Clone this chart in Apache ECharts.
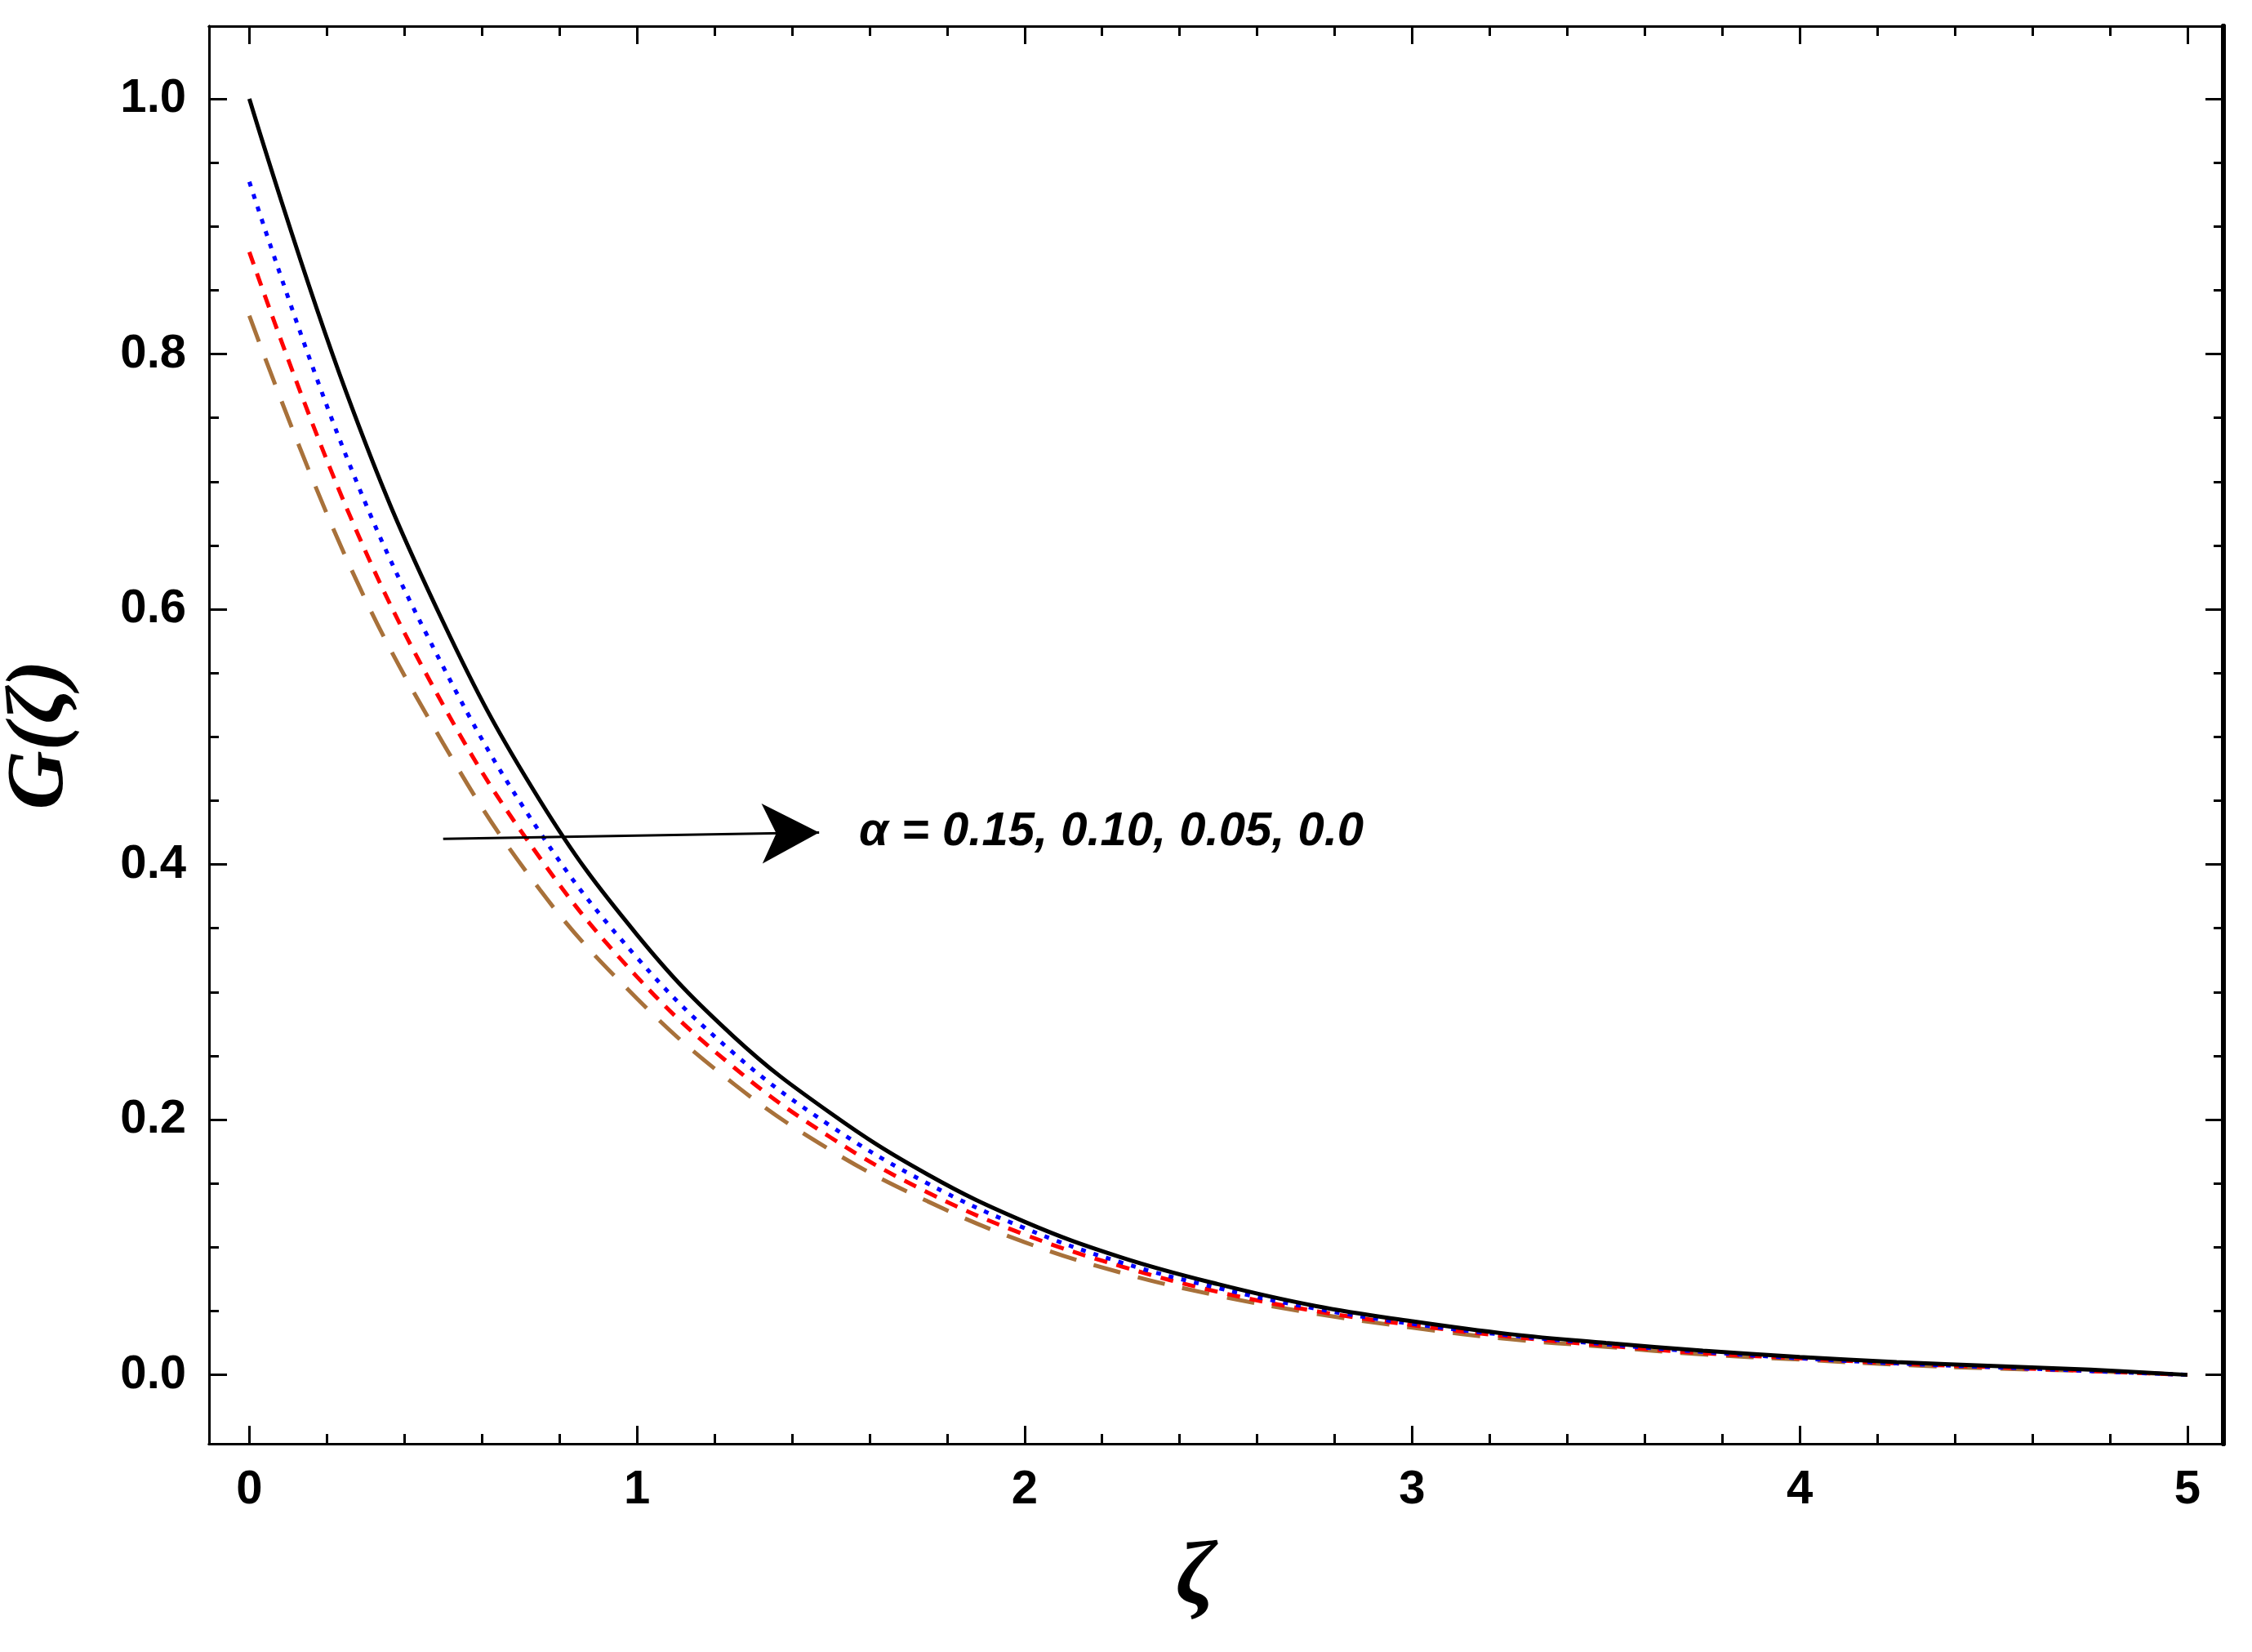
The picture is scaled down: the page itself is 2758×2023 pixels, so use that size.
<!DOCTYPE html>
<html>
<head>
<meta charset="utf-8">
<script src="https://cdn.jsdelivr.net/npm/echarts@6/dist/echarts.min.js"></script>
<style>html,body{margin:0;background:#fff}#chart{width:2758px;height:2023px}</style>
</head>
<body>
<div id="chart"></div>
<script>
// zeta values, step 0.25
var zeta = [0,0.25,0.5,0.75,1,1.25,1.5,1.75,2,2.25,2.5,2.75,3,3.25,3.5,3.75,4,4.25,4.5,4.75,5];
var gBlack = [1.0,0.77,0.59,0.45,0.345,0.265,0.205,0.157,0.12,0.092,0.071,0.054,0.042,0.032,0.025,0.019,0.014,0.010,0.007,0.004,0.0];
var gBlue  = [0.935,0.72,0.555,0.425,0.327,0.252,0.195,0.15,0.115,0.088,0.068,0.052,0.040,0.031,0.024,0.018,0.013,0.009,0.006,0.003,0.0];
var gRed   = [0.88,0.68,0.525,0.405,0.312,0.241,0.186,0.143,0.11,0.085,0.065,0.050,0.039,0.030,0.023,0.017,0.013,0.009,0.006,0.003,0.0];
var gBrown = [0.83,0.64,0.495,0.38,0.295,0.228,0.176,0.136,0.104,0.08,0.062,0.048,0.037,0.028,0.022,0.016,0.012,0.008,0.005,0.003,0.0];
var xMajor = [0,1,2,3,4,5];
var xMinor = [0.2,0.4,0.6,0.8,1.2,1.4,1.6,1.8,2.2,2.4,2.6,2.8,3.2,3.4,3.6,3.8,4.2,4.4,4.6,4.8];
var yMajor = [0,0.2,0.4,0.6,0.8,1.0];
var yMinor = [0.05,0.1,0.15,0.25,0.3,0.35,0.45,0.5,0.55,0.65,0.7,0.75,0.85,0.9,0.95];
var annText = 'α = 0.15, 0.10, 0.05, 0.0';

function pairs(ys){ return zeta.map(function(x,i){ return [x, ys[i]]; }); }
var XMIN = -0.104, XMAX = 5.093, YMIN = -0.054, YMAX = 1.057;
var lbl = {fontFamily:'Liberation Sans Narrow, Liberation Sans', fontWeight:'bold', fontSize:58, color:'#000'};

function xAx(pos, major, show, len){
  return {type:'value', position:pos, min:XMIN, max:XMAX, splitLine:{show:false},
    axisLine:{show:true, onZero:false, lineStyle:{color:'#000', width:3}},
    axisTick:{show:true, inside:true, length:len, customValues:major, lineStyle:{color:'#000', width:3}},
    axisLabel:show ? Object.assign({customValues:xMajor, margin:28}, lbl) : {show:false}};
}
function yAx(pos, major, show, len, w){
  return {type:'value', position:pos, min:YMIN, max:YMAX, splitLine:{show:false},
    axisLine:{show:true, onZero:false, lineStyle:{color:'#000', width:w}},
    axisTick:{show:true, inside:true, length:len, customValues:major, lineStyle:{color:'#000', width:3}},
    axisLabel:show ? Object.assign({customValues:yMajor, margin:28, formatter:function(v){return v.toFixed(1);}}, lbl) : {show:false}};
}

var chart = echarts.init(document.getElementById('chart'));
var common = {type:'line', smooth:0.4, showSymbol:false, xAxisIndex:0, yAxisIndex:0};
chart.setOption({
  animation:false,
  grid:{left:256, right:35, top:32, bottom:255},
  xAxis:[xAx('bottom', xMajor, true, 22), xAx('bottom', xMinor, false, 12), xAx('top', xMajor, false, 22), xAx('top', xMinor, false, 12)],
  yAxis:[yAx('left', yMajor, true, 22, 3), yAx('left', yMinor, false, 12, 3), yAx('right', yMajor, false, 22, 6), yAx('right', yMinor, false, 12, 6)],
  series:[
    Object.assign({data:pairs(gBrown), lineStyle:{color:'#a8713a', width:5, type:[34,22]}}, common),
    Object.assign({data:pairs(gRed), lineStyle:{color:'#ff0000', width:5, type:[16,12]}}, common),
    Object.assign({data:pairs(gBlue), lineStyle:{color:'#0000ff', width:5, type:[6,10]}}, common),
    Object.assign({data:pairs(gBlack), lineStyle:{color:'#000', width:5},
      markLine:{silent:true, symbol:['none','arrow'], symbolSize:[55,70],
        lineStyle:{color:'#000', width:3, type:'solid'}, label:{show:false},
        data:[[{coord:[0.5,0.42]},{coord:[1.47,0.425]}]]}}, common)
  ],
  graphic:[
    {type:'text', left:1052, top:990, style:{text:annText, font:'italic bold 58px "Liberation Sans Narrow", "Liberation Sans"', fill:'#000'}},
    {type:'text', x:50, y:900, rotation:Math.PI/2, style:{text:'G(ζ)', font:'italic bold 100px "Liberation Serif"', fill:'#000', align:'center', verticalAlign:'middle'}},
    {type:'text', left:1440, top:1880, style:{text:'ζ', font:'italic bold 110px "Liberation Serif"', fill:'#000'}}
  ]
});
</script>
</body>
</html>
